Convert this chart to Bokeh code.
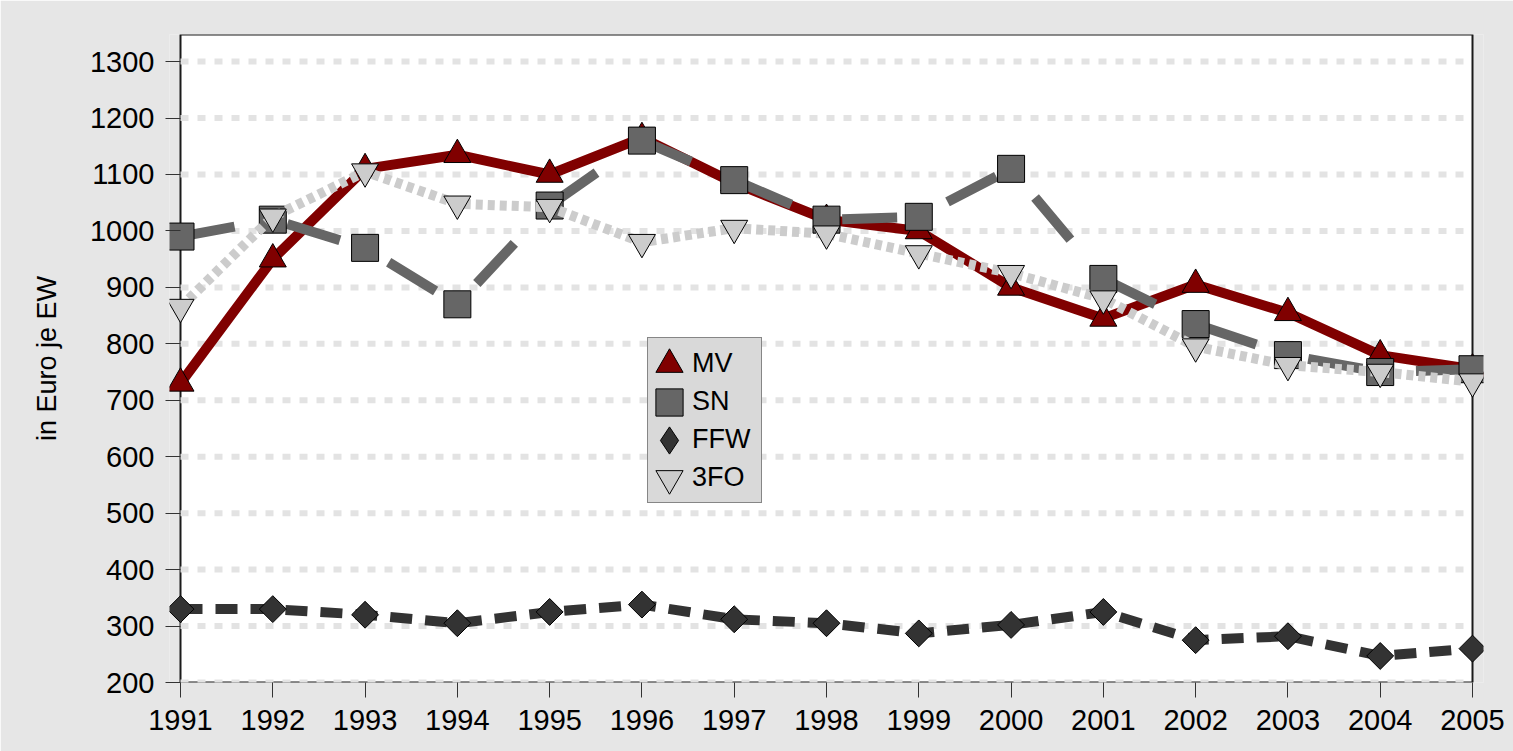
import math
from bokeh.plotting import figure
from bokeh.models import Range1d, FixedTicker, Legend, LegendItem, ColumnDataSource
from bokeh.embed import file_html
from bokeh.resources import INLINE

# ---------------- data ----------------
years = list(range(1991, 2006))
mv = [730, 950, 1110, 1135, 1100, 1165, 1085, 1020, 1000, 900, 845, 905, 855, 780, 755]
sn = [990, 1020, 970, 870, 1045, 1160, 1090, 1020, 1025, 1110, 915, 835, 780, 750, 755]
ffw = [330, 330, 320, 305, 325, 338, 312, 305, 287, 302, 325, 275, 282, 247, 260]
fo3 = [865, 1025, 1105, 1048, 1042, 980, 1005, 995, 960, 925, 880, 795, 762, 750, 733]
y_ticks = list(range(200, 1301, 100))
series_names = ["MV", "SN", "FFW", "3FO"]
y_label = "in Euro je EW"

# ---------------- layout ----------------
W, H = 1513, 751
BL, BR, BT, BB = 169, 30, 34, 69
frame_w = W - BL - BR
frame_h = H - BT - BB
pad_px = 11
px_per_year = (frame_w - 2 * pad_px) / (years[-1] - years[0])
pad = pad_px / px_per_year
y_lo, y_hi = 200, 1348

FONT = "Liberation Sans"

p = figure(width=W, height=H, output_backend="svg", toolbar_location=None,
           x_range=Range1d(years[0] - pad, years[-1] + pad),
           y_range=Range1d(y_lo, y_hi),
           min_border_left=BL, min_border_right=BR,
           min_border_top=BT, min_border_bottom=BB)
p.background_fill_color = "#e6e6e6"
p.border_fill_color = "#e6e6e6"
p.outline_line_color = None
p.xgrid.visible = False
p.ygrid.visible = False

# plot area box
p.quad(left=[years[0]], right=[years[-1]], bottom=[y_lo], top=[y_hi],
       fill_color="white", line_color="#1a1a1a", line_width=2)

# dashed grid lines
p.segment(x0=[years[0]] * len(y_ticks), x1=[years[-1]] * len(y_ticks),
          y0=y_ticks, y1=y_ticks, line_color="#e3e3e3", line_width=6,
          line_dash="8 9")

src = ColumnDataSource(dict(year=years, mv=mv, sn=sn, ffw=ffw, fo3=fo3))

p.line("year", "mv", source=src, line_color="#800000", line_width=10,
       line_join="round")
r_mv = p.scatter("year", "mv", source=src, marker="triangle", size=27,
                 fill_color="#800000", line_color="black", line_width=1)

p.line("year", "sn", source=src, line_color="#666666", line_width=10,
       line_dash="55 54")
r_sn = p.scatter("year", "sn", source=src, marker="square", size=27,
                 fill_color="#666666", line_color="black", line_width=1)

p.line("year", "ffw", source=src, line_color="#333333", line_width=10,
       line_dash="22 13")
# diamond glyph used for the legend (hidden beneath the rotated squares)
r_ffw_leg = p.scatter("year", "ffw", source=src, marker="diamond", size=12,
                      fill_color="#333333", line_color="black", line_width=1)
r_ffw = p.scatter("year", "ffw", source=src, marker="square", angle=math.pi / 4,
                  size=19, fill_color="#333333", line_color="black", line_width=1)

p.line("year", "fo3", source=src, line_color="#cccccc", line_width=10,
       line_dash="7 5")
r_fo = p.scatter("year", "fo3", source=src, marker="inverted_triangle", size=27,
                 fill_color="#cccccc", line_color="black", line_width=1)
legend_renders = [r_mv, r_sn, r_ffw_leg, r_fo]

# axes
p.xaxis.ticker = FixedTicker(ticks=years)
p.yaxis.ticker = FixedTicker(ticks=y_ticks)
for ax in (p.xaxis[0], p.yaxis[0]):
    ax.axis_line_color = None
    ax.major_tick_line_color = "#333333"
    ax.minor_tick_line_color = None
    ax.major_label_text_font = FONT
    ax.major_label_text_font_size = "29px"
    ax.major_label_text_color = "black"
p.xaxis.major_tick_out = 15
p.xaxis.major_tick_in = 0
p.xaxis.major_label_standoff = 12
p.yaxis.major_tick_out = 4
p.yaxis.major_tick_in = 11
p.yaxis.major_label_standoff = 11
p.yaxis.axis_label = y_label
p.yaxis.axis_label_text_font = FONT
p.yaxis.axis_label_text_font_size = "27px"
p.yaxis.axis_label_text_font_style = "normal"
p.yaxis.axis_label_text_color = "black"
p.yaxis.axis_label_standoff = 25

# ---------------- legend ----------------
FL = BL
FB = BT + frame_h
leg_left, leg_top, leg_h = 647, 339, 164
leg_pad, leg_gw, leg_gh = 6, 32, 38
legend = Legend(
    items=[LegendItem(label=n, renderers=[r]) for n, r in zip(series_names, legend_renders)],
    location=(leg_left - FL, FB - (leg_top + leg_h)), orientation="vertical",
    glyph_width=leg_gw, glyph_height=leg_gh, padding=leg_pad, spacing=0,
    label_standoff=6, label_width=63, label_height=leg_gh,
    label_text_font=FONT, label_text_font_size="27px",
    label_text_color="black",
    background_fill_color="#d9d9d9", background_fill_alpha=1.0,
    border_line_color="#333333", border_line_width=1.3, margin=0)
p.add_layout(legend)

# larger legend markers (Bokeh draws legend markers at 0.4 x glyph box)
mk_cx = leg_left + leg_pad + leg_gw // 2
mk_cy = [leg_top + leg_pad + leg_gh // 2 + i * leg_gh for i in range(4)]
for i, r in enumerate(legend_renders):
    box = 68
    big = Legend(
        items=[LegendItem(label=" ", renderers=[r])],
        location=(mk_cx - box // 2 - FL, FB - (mk_cy[i] + box // 2)),
        glyph_width=box, glyph_height=box, padding=0, spacing=0,
        label_standoff=0, label_width=0, label_height=box,
        label_text_font_size="1px",
        background_fill_alpha=0.0, border_line_color=None, margin=0)
    p.add_layout(big)

open("out.html", "w").write(file_html(p, INLINE))
